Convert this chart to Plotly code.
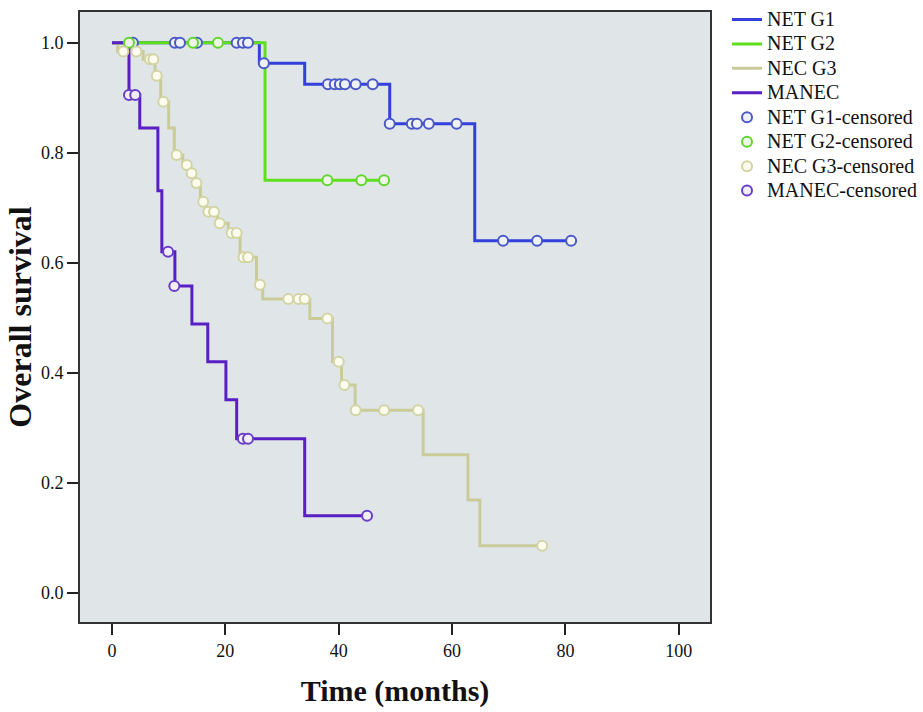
import plotly.graph_objects as go

# ---------------- data ----------------
# NET G1
g1_t = [0, 26.0, 34.0, 49.0, 64.0, 81.0]
g1_s = [1.0, 0.963, 0.9245, 0.853, 0.64, 0.64]
g1_ct = [3.7, 11.1, 12.0, 15.0, 22.0, 23.1, 24.0, 26.8, 38.1, 39.3, 40.2, 41.1, 43.0, 46.0,
         49.0, 52.9, 53.8, 55.9, 60.8, 69.0, 75.0, 81.0]
g1_cs = [1.0, 1.0, 1.0, 1.0, 1.0, 1.0, 1.0, 0.963, 0.9245, 0.9245, 0.9245, 0.9245, 0.9245, 0.9245,
         0.853, 0.853, 0.853, 0.853, 0.853, 0.64, 0.64, 0.64]

# NET G2
g2_t = [0, 27.0, 48.0]
g2_s = [1.0, 0.75, 0.75]
g2_ct = [3.0, 14.3, 18.7, 38.0, 44.0, 48.0]
g2_cs = [1.0, 1.0, 1.0, 0.75, 0.75, 0.75]

# NEC G3
g3_t = [0, 1.0, 5.5, 7.6, 8.6, 10.0, 11.0, 12.5, 13.8, 14.6, 15.6, 16.6, 18.6, 20.5, 22.6,
        25.5, 26.6, 34.9, 38.9, 40.5, 42.9, 54.9, 62.8, 64.9, 75.9]
g3_s = [1.0, 0.984, 0.97, 0.94, 0.893, 0.845, 0.796, 0.778, 0.763, 0.745, 0.711, 0.693, 0.672,
        0.654, 0.61, 0.56, 0.534, 0.499, 0.42, 0.378, 0.332, 0.251, 0.169, 0.0855, 0.0855]
g3_ct = [2.0, 4.3, 6.7, 7.3, 7.9, 9.05, 11.4, 13.2, 14.05, 14.9, 16.1, 17.0, 18.0, 19.0, 21.1,
         22.0, 23.2, 24.0, 26.1, 31.1, 32.9, 34.0, 38.0, 40.0, 41.0, 43.0, 48.0, 54.0, 75.9]
g3_cs = [0.984, 0.984, 0.97, 0.97, 0.94, 0.893, 0.796, 0.778, 0.763, 0.745, 0.711, 0.693, 0.693,
         0.672, 0.654, 0.654, 0.61, 0.61, 0.56, 0.534, 0.534, 0.534, 0.499, 0.42, 0.378, 0.332,
         0.332, 0.332, 0.0855]

# MANEC
mn_t = [0, 3.0, 4.9, 8.1, 8.8, 11.1, 14.1, 16.9, 20.1, 22.0, 34.0, 45.0]
mn_s = [1.0, 0.905, 0.845, 0.731, 0.62, 0.558, 0.489, 0.42, 0.351, 0.28, 0.14, 0.14]
mn_ct = [3.0, 4.1, 9.9, 11.0, 23.1, 24.0, 45.0]
mn_cs = [0.905, 0.905, 0.62, 0.558, 0.28, 0.28, 0.14]

names = ["NET G1", "NET G2", "NEC G3", "MANEC"]
line_colors = ["#3340dc", "#5ee01c", "#c9cc98", "#5a1fc4"]
cens_colors = ["#4a58c8", "#62d62e", "#d2d4a4", "#6a3ec8"]
cens_fill = ["#eef2f4", "#eef4ea", "#fbfbee", "#f2eef8"]

x_ticks = [0, 20, 40, 60, 80, 100]
y_ticks = [0.0, 0.2, 0.4, 0.6, 0.8, 1.0]
y_tick_text = ["0.0", "0.2", "0.4", "0.6", "0.8", "1.0"]

curves = [(g1_t, g1_s), (g2_t, g2_s), (g3_t, g3_s), (mn_t, mn_s)]
censors = [(g1_ct, g1_cs), (g2_ct, g2_cs), (g3_ct, g3_cs), (mn_ct, mn_cs)]


def leg_name(s):
    return '<span style="font-size:20px">' + s + '</span>'


fig = go.Figure()
for i, (t, s) in enumerate(curves):
    fig.add_trace(go.Scatter(x=t, y=s, mode="lines", name=leg_name(names[i]),
                             line=dict(color=line_colors[i], width=3, shape="hv"),
                             legendrank=i + 1))
for i, (t, s) in enumerate(censors):
    fig.add_trace(go.Scatter(x=t, y=s, mode="markers", name=leg_name(names[i] + "-censored"),
                             marker=dict(symbol="circle", size=10, color=cens_fill[i],
                                         line=dict(color=cens_colors[i], width=2)),
                             legendrank=i + 5))

serif = "Liberation Serif"
axis_common = dict(showline=True, linecolor="#333333", linewidth=2, mirror=True,
                   ticks="outside", ticklen=11, tickwidth=2, tickcolor="#222222",
                   showgrid=False, zeroline=False,
                   tickfont=dict(family=serif, size=18, color="#111111"))

fig.update_layout(
    width=923, height=712,
    margin=dict(l=80, r=213, t=12, b=90, autoexpand=False),
    paper_bgcolor="white", plot_bgcolor="#e0e6e8",
    font=dict(family=serif, color="#111111"),
    showlegend=True,
    legend=dict(x=1.027, y=1.016, xanchor="left", yanchor="top",
                font=dict(family=serif, size=16.5, color="#111111"),
                bgcolor="rgba(0,0,0,0)", tracegroupgap=0, itemwidth=30),
    xaxis=dict(range=[-5.64, 105.5], tickvals=x_ticks,
               title=dict(text="<b>Time (months)</b>", font=dict(family=serif, size=30),
                          standoff=20),
               **axis_common),
    yaxis=dict(range=[-0.053, 1.056], tickvals=y_ticks, ticktext=y_tick_text,
               title=dict(text="<b>Overall survival</b>", font=dict(family=serif, size=32),
                          standoff=0),
               **axis_common),
)

fig.write_html("out.html")
